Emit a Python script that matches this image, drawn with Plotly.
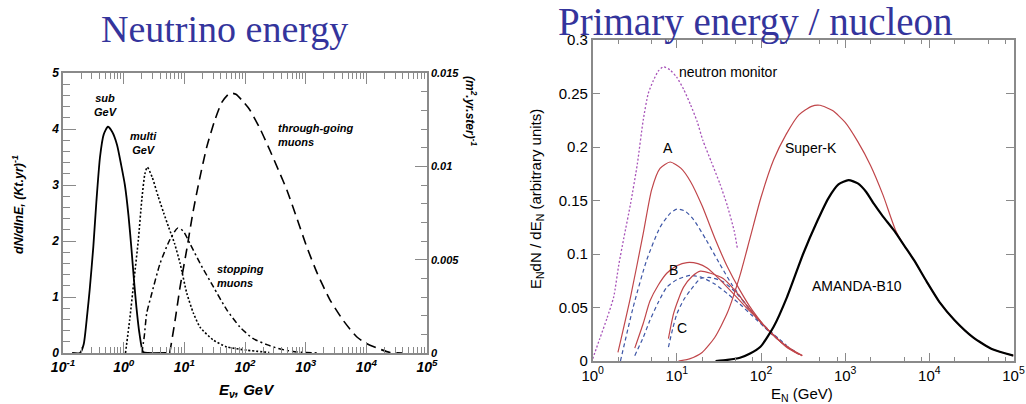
import plotly.graph_objects as go

# ---------------- Left panel data: "Neutrino energy" ----------------
# x values are log10(E_nu / GeV)
sub_gev_log10E = [-0.85, -0.72, -0.66, -0.6, -0.56, -0.5, -0.45, -0.39, -0.33, -0.26, -0.19, -0.11,
                  -0.04, 0.02, 0.08, 0.13, 0.17, 0.21, 0.26, 0.32, 0.4, 0.7]
sub_gev_rate = [0.0, 0.0, 0.15, 0.7, 1.13, 1.9, 2.7, 3.5, 3.9, 4.04, 3.95, 3.72,
                3.35, 3.0, 2.45, 1.84, 1.3, 0.82, 0.35, 0.02, 0.0, 0.0]

multi_gev_log10E = [0.03, 0.1, 0.17, 0.24, 0.3, 0.35, 0.39, 0.47, 0.57, 0.66, 0.74, 0.84, 0.93,
                    1.04, 1.15, 1.26, 1.48, 1.7, 2.03, 2.4]
multi_gev_rate = [0.0, 0.6, 1.3, 2.0, 2.75, 3.2, 3.32, 3.14, 2.79, 2.5, 2.25, 1.95, 1.6,
                  1.07, 0.71, 0.46, 0.23, 0.11, 0.05, 0.01]

stopping_log10E = [0.3, 0.34, 0.38, 0.46, 0.6, 0.76, 0.89, 0.98, 1.09, 1.26, 1.48, 1.7, 1.92,
                   2.13, 2.36, 2.58, 2.85, 3.2]
stopping_rate = [0.0, 0.3, 0.71, 1.05, 1.6, 2.02, 2.23, 2.18, 1.96, 1.6, 1.18, 0.77, 0.46,
                 0.26, 0.15, 0.07, 0.02, 0.0]

# through-going muons, in (m^2.yr.ster)^-1 (right-hand axis)
through_log10E = [0.76, 0.85, 0.93, 1.04, 1.14, 1.25, 1.37, 1.5, 1.62, 1.75, 1.85, 1.96, 2.08,
                  2.25, 2.41, 2.55, 2.69, 2.85, 3.02, 3.2, 3.4, 3.62, 3.84, 4.0, 4.17, 4.39, 4.6]
through_flux = [0.0, 0.0018, 0.00354, 0.00555, 0.0075, 0.0093, 0.01104, 0.01245, 0.01344,
                0.01392, 0.01386, 0.0135, 0.01302, 0.012, 0.01086, 0.00981, 0.00873, 0.00726,
                0.00567, 0.0042, 0.00285, 0.00174, 0.00087, 0.00051, 0.00027, 0.00003, 0.0]

left_xtick_vals = [0.1, 1, 10, 100, 1000, 10000, 100000]
left_xtick_text = ["10<sup>-1</sup>", "10<sup>0</sup>", "10<sup>1</sup>", "10<sup>2</sup>",
                   "10<sup>3</sup>", "10<sup>4</sup>", "10<sup>5</sup>"]
right_axis_vals = [0, 0.005, 0.01, 0.015]
right_axis_text = ["0", "0.005", "0.01", "0.015"]

# ---------------- Right panel data: "Primary energy / nucleon" ----------------
# x values are log10(E_N / GeV)
neutron_log10E = [0.0, 0.08, 0.17, 0.25, 0.31, 0.37, 0.45, 0.53, 0.6, 0.66, 0.72, 0.78, 0.84,
                  0.92, 1.0, 1.08, 1.16, 1.24, 1.31, 1.41, 1.51, 1.6, 1.68, 1.72]
neutron_val = [0.002, 0.02, 0.04, 0.06, 0.09, 0.115, 0.147, 0.184, 0.225, 0.25, 0.262, 0.271,
               0.275, 0.272, 0.265, 0.254, 0.24, 0.224, 0.206, 0.186, 0.166, 0.145, 0.122, 0.105]

a_red_log10E = [0.3, 0.45, 0.6, 0.7, 0.8, 0.92, 1.05, 1.16, 1.3, 1.45, 1.6, 1.75, 1.9, 2.05,
                2.2, 2.35, 2.49]
a_red_val = [0.008, 0.06, 0.119, 0.16, 0.18, 0.186, 0.18, 0.168, 0.145, 0.115, 0.088, 0.066,
             0.047, 0.032, 0.02, 0.011, 0.005]
a_blue_log10E = [0.33, 0.48, 0.64, 0.8, 0.92, 1.0, 1.1, 1.2, 1.35, 1.5, 1.65, 1.8, 1.95, 2.1,
                 2.25, 2.4]
a_blue_val = [0.0, 0.05, 0.094, 0.125, 0.138, 0.142, 0.14, 0.132, 0.113, 0.092, 0.072, 0.055,
              0.04, 0.027, 0.017, 0.009]

b_red_log10E = [0.5, 0.6, 0.68, 0.78, 0.88, 1.0, 1.12, 1.25, 1.36, 1.5, 1.67, 1.8, 1.95, 2.1,
                2.25, 2.4, 2.49]
b_red_val = [0.012, 0.035, 0.056, 0.071, 0.082, 0.089, 0.092, 0.091, 0.087, 0.077, 0.063,
             0.052, 0.04, 0.028, 0.017, 0.009, 0.005]
b_blue_log10E = [0.5, 0.6, 0.68, 0.78, 0.88, 1.0, 1.16, 1.3, 1.45, 1.6, 1.75, 1.9, 2.05, 2.2]
b_blue_val = [0.005, 0.022, 0.038, 0.055, 0.069, 0.076, 0.08, 0.078, 0.072, 0.063, 0.053,
              0.042, 0.031, 0.021]

c_red_log10E = [0.9, 0.96, 1.02, 1.08, 1.18, 1.28, 1.4, 1.55, 1.7, 1.85, 2.0, 2.15, 2.3, 2.45]
c_red_val = [0.021, 0.044, 0.058, 0.069, 0.079, 0.084, 0.082, 0.077, 0.065, 0.05, 0.036,
             0.024, 0.013, 0.006]
c_blue_log10E = [0.9, 0.95, 1.0, 1.08, 1.16, 1.28, 1.4, 1.55, 1.7, 1.85, 2.0, 2.15, 2.3]
c_blue_val = [0.013, 0.03, 0.044, 0.057, 0.066, 0.077, 0.078, 0.074, 0.064, 0.05, 0.036,
              0.025, 0.015]

superk_log10E = [1.02, 1.15, 1.3, 1.45, 1.6, 1.75, 1.87, 2.0, 2.15, 2.3, 2.45, 2.6, 2.7, 2.85,
                 3.0, 3.15, 3.3, 3.45, 3.6, 3.7, 3.82, 3.97, 4.13, 4.3, 4.52, 4.75, 5.0]
superk_val = [0.0, 0.002, 0.008, 0.022, 0.045, 0.08, 0.115, 0.153, 0.188, 0.212, 0.23, 0.238,
              0.239, 0.234, 0.223, 0.205, 0.183, 0.155, 0.122, 0.108, 0.094, 0.074, 0.054,
              0.038, 0.022, 0.011, 0.005]

amanda_log10E = [1.46, 1.6, 1.75, 1.87, 1.99, 2.15, 2.31, 2.5, 2.67, 2.8, 2.92, 3.04, 3.15,
                 3.25, 3.34, 3.45, 3.58, 3.7, 3.82, 3.97, 4.13, 4.3, 4.52, 4.75, 5.0]
amanda_val = [0.0, 0.001, 0.003, 0.007, 0.013, 0.032, 0.06, 0.1, 0.131, 0.152, 0.165, 0.169,
              0.166, 0.158, 0.147, 0.135, 0.122, 0.108, 0.094, 0.074, 0.054, 0.038, 0.022,
              0.011, 0.005]

right_xtick_vals = [1, 10, 100, 1000, 10000, 100000]
right_xtick_text = ["10<sup>0</sup>", "10<sup>1</sup>", "10<sup>2</sup>", "10<sup>3</sup>",
                    "10<sup>4</sup>", "10<sup>5</sup>"]


def E(logs):
    return [10 ** v for v in logs]


# ---------------- layout helpers ----------------
W, H = 1026, 404


def fx(p):
    return p / W


def fy(p):
    return 1 - p / H


AX = "#8a8a8a"
BI = dict(family="Liberation Sans, Arial", weight="bold", style="italic", color="black")
RG = dict(family="Liberation Sans, Arial", color="black")
SERIF = dict(family="Liberation Serif, Times New Roman", color="#34349c")
RED = "#c0464a"
BLUE = "#3d56a6"
PURPLE = "#a752b8"

left_minor = [k * 10 ** d for d in range(-1, 5) for k in range(2, 10)]
right_minor = [k * 10 ** d for d in range(0, 5) for k in (2, 5, 8)]

fig = go.Figure()

# Left panel traces
fig.add_trace(go.Scatter(x=E(sub_gev_log10E), y=sub_gev_rate, mode="lines",
                         line=dict(color="black", width=1.8, shape="spline", smoothing=0.6),
                         xaxis="x", yaxis="y", showlegend=False))
fig.add_trace(go.Scatter(x=E(multi_gev_log10E), y=multi_gev_rate, mode="lines",
                         line=dict(color="black", width=1.6, dash="2px,2px", shape="spline", smoothing=0.6),
                         xaxis="x", yaxis="y", showlegend=False))
fig.add_trace(go.Scatter(x=E(stopping_log10E), y=stopping_rate, mode="lines",
                         line=dict(color="black", width=1.5, dash="6px,3px,2px,3px", shape="spline", smoothing=0.6),
                         xaxis="x", yaxis="y", showlegend=False))
fig.add_trace(go.Scatter(x=E(through_log10E), y=through_flux, mode="lines",
                         line=dict(color="black", width=1.6, dash="10px,6px", shape="spline", smoothing=0.6),
                         xaxis="x", yaxis="y2", showlegend=False))

# Right panel traces
fig.add_trace(go.Scatter(x=E(neutron_log10E), y=neutron_val, mode="lines",
                         line=dict(color=PURPLE, width=1.3, dash="2px,2px", shape="spline", smoothing=0.6),
                         xaxis="x2", yaxis="y3", showlegend=False))
for xs, ys in [(a_blue_log10E, a_blue_val), (b_blue_log10E, b_blue_val), (c_blue_log10E, c_blue_val)]:
    fig.add_trace(go.Scatter(x=E(xs), y=ys, mode="lines",
                             line=dict(color=BLUE, width=1.2, dash="4px,3px", shape="spline", smoothing=0.6),
                             xaxis="x2", yaxis="y3", showlegend=False))
for xs, ys in [(a_red_log10E, a_red_val), (b_red_log10E, b_red_val), (c_red_log10E, c_red_val),
               (superk_log10E, superk_val)]:
    fig.add_trace(go.Scatter(x=E(xs), y=ys, mode="lines",
                             line=dict(color=RED, width=1.2, shape="spline", smoothing=0.6),
                             xaxis="x2", yaxis="y3", showlegend=False))
fig.add_trace(go.Scatter(x=E(amanda_log10E), y=amanda_val, mode="lines",
                         line=dict(color="black", width=2.2, shape="spline", smoothing=0.6),
                         xaxis="x2", yaxis="y3", showlegend=False))

common = dict(showgrid=False, zeroline=False, showline=True, linecolor=AX, linewidth=1.5,
              ticks="inside", tickcolor=AX, automargin=False)

fig.update_layout(
    width=W, height=H, margin=dict(l=0, r=0, t=0, b=0),
    paper_bgcolor="white", plot_bgcolor="white", template="none",
    xaxis=dict(common, type="log", range=[-1, 5], domain=[fx(63), fx(427)], anchor="y",
               mirror="ticks", tickvals=left_xtick_vals, ticktext=left_xtick_text, ticklen=11,
               tickwidth=1.2, tickfont=dict(BI, size=14),
               minor=dict(tickvals=left_minor, ticks="inside", ticklen=6, tickcolor=AX, tickwidth=1)),
    yaxis=dict(common, range=[0, 5], domain=[fy(353), fy(73)], anchor="x", mirror=False,
               tickvals=[0, 1, 2, 3, 4, 5], ticklen=13, tickwidth=1.2, tickfont=dict(BI, size=12),
               minor=dict(dtick=0.2, ticks="inside", ticklen=7, tickcolor=AX, tickwidth=1)),
    yaxis2=dict(common, range=[0, 0.015], overlaying="y", side="right", anchor="x",
                tickvals=right_axis_vals, ticktext=right_axis_text, ticklen=12, tickwidth=1.2,
                tickfont=dict(BI, size=11),
                minor=dict(dtick=0.001, ticks="inside", ticklen=6, tickcolor=AX, tickwidth=1)),
    xaxis2=dict(common, type="log", range=[0, 5], domain=[fx(592.7), fx(1013.5)], anchor="y3",
                mirror="ticks", tickvals=right_xtick_vals, ticktext=right_xtick_text, ticklen=8,
                tickwidth=1, tickfont=dict(RG, size=15),
                minor=dict(tickvals=right_minor, ticks="inside", ticklen=4, tickcolor=AX, tickwidth=1)),
    yaxis3=dict(common, range=[0, 0.3], domain=[fy(361), fy(40)], anchor="x2", mirror="ticks",
                dtick=0.05, ticklen=8, tickwidth=1, tickfont=dict(RG, size=15)),
)

ann = []


def add(text, xp, yp, font, xanchor="center", yanchor="middle", angle=0, align="center"):
    ann.append(dict(text=text, x=fx(xp), y=fy(yp), xref="paper", yref="paper", showarrow=False,
                    xanchor=xanchor, yanchor=yanchor, textangle=angle, font=font, align=align))


# titles
add("Neutrino energy", 224, 29, dict(SERIF, size=38))
add("Primary energy / nucleon", 755, 22, dict(SERIF, size=39))

# left panel texts
add("dN/dlnE, (Kt.yr)<sup>-1</sup>", 18, 205, dict(BI, size=12.5), angle=-90)
add("(m<sup>2</sup>.yr.ster)<sup>-1</sup>", 471, 111, dict(BI, size=12), angle=90)
add("E<sub>ν</sub>, GeV", 247, 390, dict(BI, size=15))
add("sub<br>GeV", 106, 105, dict(BI, size=11))
add("multi<br>GeV", 143, 143, dict(BI, size=11))
add("through-going<br>muons", 276, 135, dict(BI, size=11), xanchor="left", align="left")
add("stopping<br>muons", 215, 276, dict(BI, size=11), xanchor="left", align="left")

# right panel texts
add("E<sub>N</sub>dN / dE<sub>N</sub> (arbitrary units)", 536, 199, dict(RG, size=15), angle=-90)
add("E<sub>N</sub> (GeV)", 802, 394, dict(RG, size=15))
add("neutron monitor", 677, 72, dict(RG, size=14), xanchor="left")
add("A", 668, 148, dict(RG, size=14))
add("B", 673, 270, dict(RG, size=14))
add("C", 682, 328, dict(RG, size=14))
add("Super-K", 811, 148, dict(RG, size=14))
add("AMANDA-B10", 857, 286, dict(RG, size=14))

fig.update_layout(annotations=ann)
fig.write_html("out.html")
